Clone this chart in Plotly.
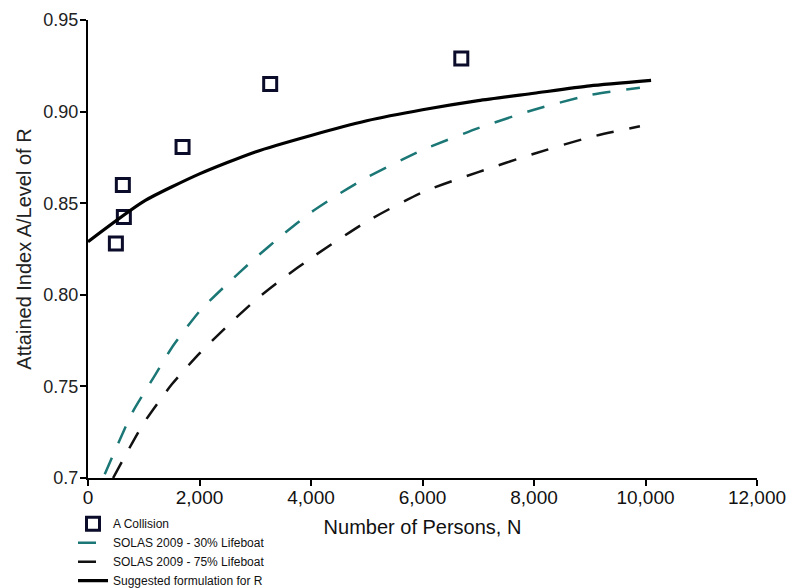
import plotly.graph_objects as go

# Data
collision_n = [500, 625, 643, 1696, 3268, 6696]
collision_a = [0.828, 0.860, 0.8425, 0.8807, 0.915, 0.929]

solas30_n = [300, 500, 800, 1200, 1500, 2000, 2500, 3000, 3500, 4000, 4500, 5000, 6000, 7000, 8000, 9000, 9900]
solas30_r = [0.702, 0.716, 0.736, 0.756, 0.771, 0.791, 0.806, 0.820, 0.833, 0.845, 0.855, 0.864, 0.879, 0.891, 0.901, 0.909, 0.913]

solas75_n = [450, 700, 1000, 1500, 2000, 2500, 3000, 3500, 4000, 5000, 6000, 7000, 8000, 9000, 9900]
solas75_r = [0.700, 0.714, 0.730, 0.751, 0.768, 0.783, 0.797, 0.809, 0.820, 0.840, 0.856, 0.867, 0.877, 0.886, 0.892]

suggested_n = [0, 1000, 2000, 3000, 4000, 5000, 6000, 7000, 8000, 9000, 10100]
suggested_r = [0.829, 0.851, 0.866, 0.878, 0.887, 0.895, 0.901, 0.906, 0.910, 0.914, 0.917]

x_ticks = [0, 2000, 4000, 6000, 8000, 10000, 12000]
x_tick_labels = ["0", "2,000", "4,000", "6,000", "8,000", "10,000", "12,000"]
y_ticks = [0.70, 0.75, 0.80, 0.85, 0.90, 0.95]
y_tick_labels = ["0.7", "0.75", "0.80", "0.85", "0.90", "0.95"]

FONT = "Liberation Sans, Arial, sans-serif"

fig = go.Figure()
fig.add_trace(go.Scatter(
    x=collision_n, y=collision_a, mode="markers", name="A Collision",
    marker=dict(symbol="square-open", size=13, color="#0b0b2a", line=dict(width=3, color="#0b0b2a")),
))
fig.add_trace(go.Scatter(
    x=solas30_n, y=solas30_r, mode="lines", name="SOLAS 2009 - 30% Lifeboat",
    line=dict(color="#1a7775", width=2.5, dash="18px,16px", shape="spline", smoothing=0.6),
))
fig.add_trace(go.Scatter(
    x=solas75_n, y=solas75_r, mode="lines", name="SOLAS 2009 - 75% Lifeboat",
    line=dict(color="#111111", width=2.5, dash="18px,16px", shape="spline", smoothing=0.6),
))
fig.add_trace(go.Scatter(
    x=suggested_n, y=suggested_r, mode="lines", name="Suggested formulation for R",
    line=dict(color="#000000", width=3.2, shape="spline", smoothing=0.6),
))

fig.update_layout(
    width=788, height=588,
    margin=dict(l=88, r=31, t=20, b=110, autoexpand=False),
    paper_bgcolor="white", plot_bgcolor="white",
    showlegend=True,
    legend=dict(
        x=-0.0224, y=-0.068, xanchor="left", yanchor="top",
        font=dict(family=FONT, size=12, color="#111111"),
        itemwidth=30, tracegroupgap=0, bgcolor="rgba(0,0,0,0)",
    ),
    xaxis=dict(
        range=[0, 12000], tickvals=x_ticks, ticktext=x_tick_labels,
        showgrid=False, zeroline=False, showline=True, linecolor="#000000", linewidth=2,
        ticks="outside", ticklen=6, tickwidth=2, tickcolor="#000000", ticklabelstandoff=-5,
        tickfont=dict(family=FONT, size=19, color="#111111"),
        title=dict(text="Number of Persons, N", standoff=13,
                   font=dict(family=FONT, size=20, color="#111111")),
    ),
    yaxis=dict(
        range=[0.7, 0.95], tickvals=y_ticks, ticktext=y_tick_labels,
        showgrid=False, zeroline=False, showline=True, linecolor="#000000", linewidth=2,
        ticks="outside", ticklen=6, tickwidth=2, tickcolor="#000000", ticklabelstandoff=-2,
        tickfont=dict(family=FONT, size=18, color="#222222"),
        title=dict(text="Attained Index A/Level of R", standoff=6,
                   font=dict(family=FONT, size=20, color="#222222")),
    ),
)

fig.write_html(
    "out.html",
    config={"displayModeBar": False},
    post_script="document.body.style.margin='0';document.body.style.overflow='hidden';",
)
